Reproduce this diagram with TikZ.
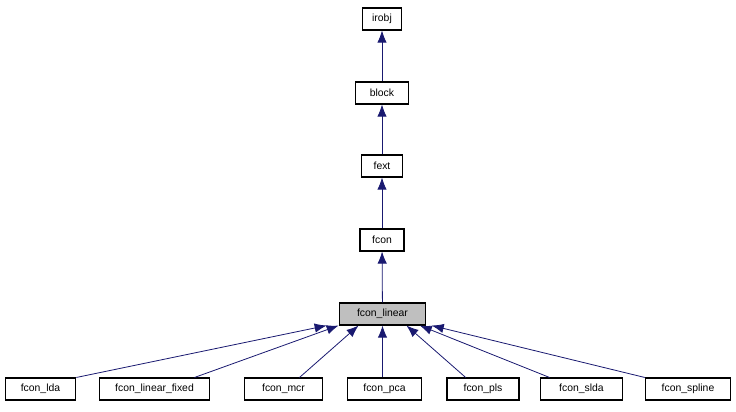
\documentclass[tikz,border=0pt]{standalone}
\usepackage{fontspec}
\setmainfont{Liberation Sans}
\usetikzlibrary{arrows.meta}
\definecolor{edgeblue}{RGB}{25,25,112}
\tikzset{
  cls/.style={draw, thick, fill=white, minimum height=16.5pt, inner sep=0pt, font=\fontsize{7.8}{9}\selectfont},
  inh/.style={draw=edgeblue, semithick, {Latex[length=9pt,width=7pt]}-}
}
\begin{document}
\begin{tikzpicture}[x=0.75pt,y=-0.75pt]
\useasboundingbox (0,0) rectangle (736,411);
\node[cls, minimum width=29pt] (irobj) at (382,19) {irobj};
\node[cls, minimum width=40pt] (block) at (382,93) {block};
\node[cls, minimum width=31pt] (fext) at (382,166) {fext};
\node[cls, minimum width=33pt] (fcon) at (382,240) {fcon};
\node[cls, minimum width=65pt, fill=black!25] (linear) at (382.5,314) {fcon\_linear};

\node[cls, minimum width=53pt] (lda) at (40.5,389) {fcon\_lda};
\node[cls, minimum width=82pt] (fixed) at (154.5,389) {fcon\_linear\_fixed};
\node[cls, minimum width=58pt] (mcr) at (283.5,389) {fcon\_mcr};
\node[cls, minimum width=56pt] (pca) at (384.5,389) {fcon\_pca};
\node[cls, minimum width=54pt] (pls) at (483,389) {fcon\_pls};
\node[cls, minimum width=61pt] (slda) at (581.5,389) {fcon\_slda};
\node[cls, minimum width=64pt] (spline) at (688,389) {fcon\_spline};

\path[inh] (irobj) -- (block);
\path[inh] (block) -- (fext);
\path[inh] (fext) -- (fcon);
\path[inh] (fcon) -- (linear);

\path[inh] (linear.south west)++(-9pt,0) -- (lda.north east);
\path[inh] (linear.south west)++(0pt,0) -- ([xshift=30pt]fixed.north);
\path[inh] ([xshift=-18pt]linear.south) -- ([xshift=12pt]mcr.north);
\path[inh] (linear.south) -- (linear.south |- pca.north);
\path[inh] ([xshift=18pt]linear.south) -- ([xshift=-13pt]pls.north);
\path[inh] ([xshift=28pt]linear.south) -- ([xshift=-24pt]slda.north);
\path[inh] (linear.south east)++(4pt,0) -- (spline.north west);
\end{tikzpicture}
\end{document}
